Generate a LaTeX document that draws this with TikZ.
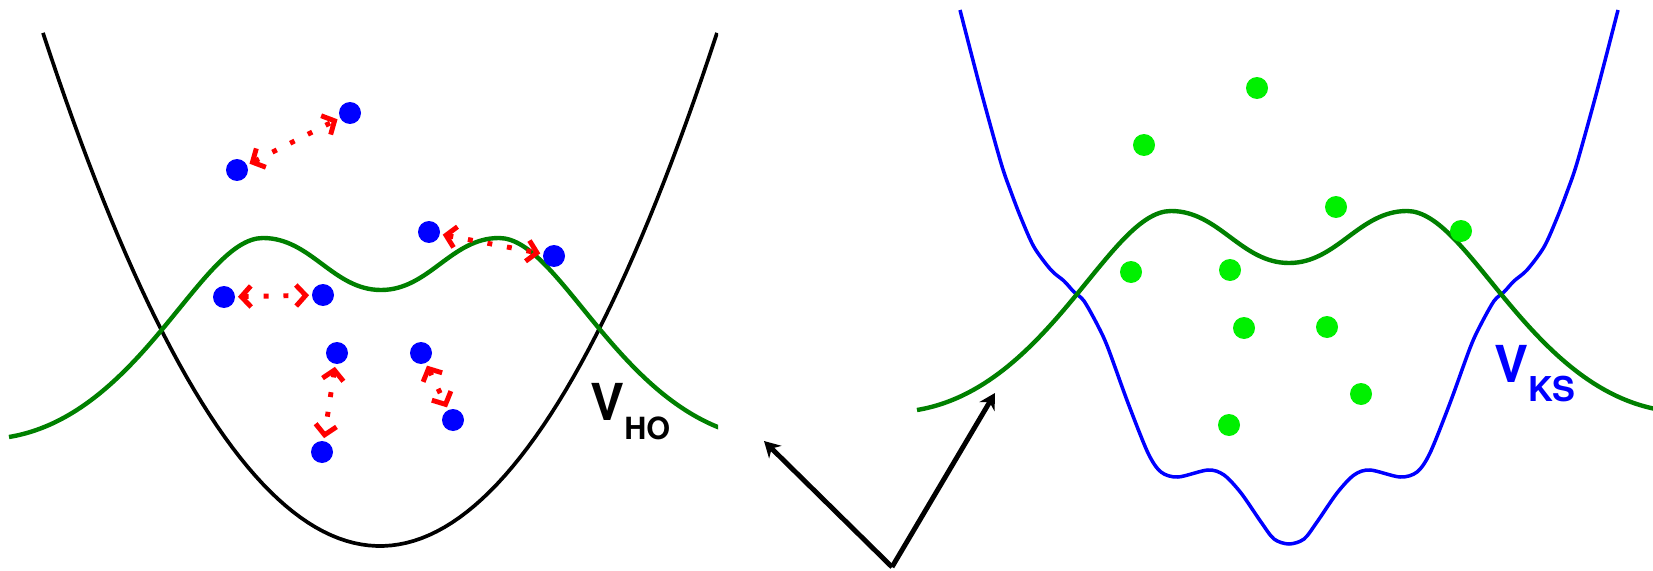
\documentclass[tikz,border=0pt]{standalone}
\usepackage{fontspec}
\setsansfont{TeX Gyre Heros}
\usepackage{tikz}
\usetikzlibrary{arrows.meta}

\definecolor{wavegreen}{RGB}{0,128,0}
\definecolor{dotgreen}{RGB}{0,240,0}

% density profile, x relative to the centre of a panel
\newcommand{\greenwave}{(-372,437) .. controls (-240,415) and (-180,238) .. (-118,238)
    .. controls (-70,238) and (-48,290) .. (0,290)
    .. controls (48,290) and (70,238) .. (118,238)
    .. controls (180,238) and (240,415) .. (372,437)}
% Kohn-Sham potential
\newcommand{\kswell}{plot[smooth] coordinates {(-329,10) (-308,91) (-288,163) (-278,192) (-268,218) (-255,247) (-238,270) (-225,281) (-215,292) (-205,301) (-191,326) (-181,348) (-161,403) (-141,453) (-128,472) (-111,477) (-81,470) (-65,475) (-48,493) (-28,522) (-15,539) (0,544) (15,539) (28,522) (48,493) (65,475) (81,470) (111,477) (128,472) (141,453) (161,403) (181,348) (191,326) (205,301) (215,292) (225,281) (238,270) (255,247) (268,218) (278,192) (288,163) (308,91) (329,10)}}

\begin{document}
\begin{tikzpicture}[x=0.02cm,y=-0.02cm,
    wave/.style={wavegreen,line width=2.5pt},
    bdot/.style={circle,fill=blue,inner sep=0pt,minimum size=0.44cm},
    gdot/.style={circle,fill=dotgreen,inner sep=0pt,minimum size=0.44cm},
    hop/.style={red,line width=2.8pt,dash pattern=on 2.8pt off 8.5pt,
        {Straight Barb[length=5.5pt,width=12pt]}-{Straight Barb[length=5.5pt,width=12pt]},
        shorten >=1.5pt,shorten <=1.5pt},
    push/.style={line width=2.8pt,-{Stealth[length=9pt,width=10pt]}},
    lbl/.style={anchor=base west,inner sep=0pt,font=\sffamily\bfseries\fontsize{29}{29}\selectfont}]
    \useasboundingbox (0,0) rectangle (1653,571);

    % left panel: interacting particles in the trap
    \begin{scope}
        \clip (0,0) rectangle (718,571);
        \draw[line width=2.1pt] plot[domain=43:717,samples=90] (\x,{546-(0.06721*(\x-380))^2});
        \draw[wave,shift={(381,0)}] \greenwave;
    \end{scope}
    \foreach \n/\p in {b1/{237,170}, b2/{350,113}, b3/{224,297}, b4/{323,295},
        b5/{429,232}, b6/{554,256}, b7/{337,353}, b8/{322,452},
        b9/{421,353}, b10/{453,420}}
        \node[bdot] (\n) at (\p) {};
    \foreach \a/\b in {b1/b2, b3/b4, b5/b6, b7/b8, b9/b10}
        \draw[hop] (\a) -- (\b);
    \node[lbl] (vho) at (590,420) {V\raisebox{-11.3pt}{\fontsize{17.4}{17.4}\selectfont HO}};

    % right panel: non-interacting particles in the KS potential
    \draw[blue,line width=2pt,shift={(1289,0)}] \kswell;
    \draw[wave,shift={(1289,-27)}] \greenwave;
    \foreach \n/\p in {g1/{1257,88}, g2/{1144,145}, g3/{1336,207}, g4/{1461,231},
        g5/{1131,272}, g6/{1230,270}, g7/{1244,328}, g8/{1327,327},
        g9/{1361,394}, g10/{1229,425}}
        \node[gdot] (\n) at (\p) {};
    \node[lbl,blue] (vks) at (1494,382) {V\raisebox{-11.3pt}{\fontsize{19.5}{19.5}\selectfont KS}};

    % mapping arrows
    \coordinate (src) at (892,567);
    \coordinate (toho) at (764,441);
    \coordinate (toks) at (995,393);
    \draw[push] (src) -- (toho);
    \draw[push] (src) -- (toks);
\end{tikzpicture}
\end{document}
